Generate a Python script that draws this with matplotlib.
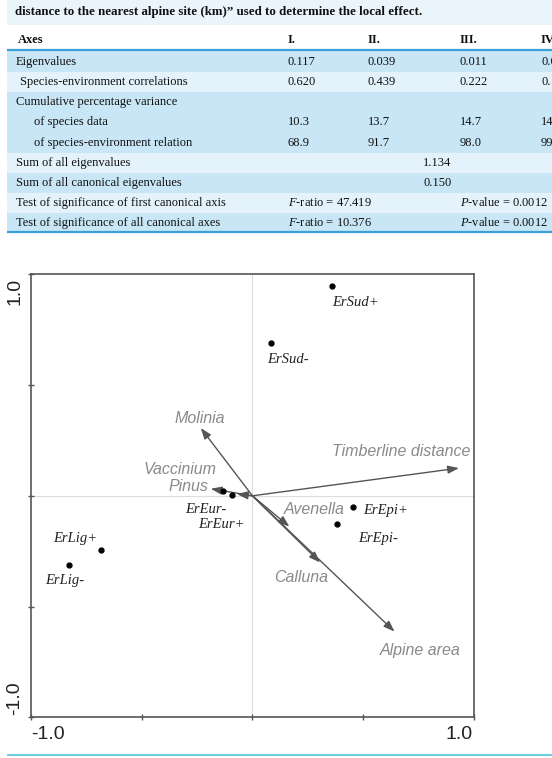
import matplotlib
matplotlib.use("Agg")
import matplotlib.pyplot as plt
from matplotlib.patches import Rectangle

# --- datos de la tabla ---
col_headers = ["I.", "II.", "III.", "IV."]
row_labels = ["Eigenvalues", "Species-environment correlations",
              "Cumulative percentage variance", "of species data",
              "of species-environment relation", "Sum of all eigenvalues",
              "Sum of all canonical eigenvalues",
              "Test of significance of first canonical axis",
              "Test of significance of all canonical axes"]
eigenvalues = ["0.117", "0.039", "0.011", "0.0"]
correlations = ["0.620", "0.439", "0.222", "0."]
cum_species = ["10.3", "13.7", "14.7", "14"]
cum_relation = ["68.9", "91.7", "98.0", "99"]
sum_all = "1.134"
sum_canonical = "0.150"
f_ratios = ["47.419", "10.376"]
p_values = ["0.0012", "0.0012"]
caption = "distance to the nearest alpine site (km)\u201d used to determine the local effect."

# --- datos del diagrama (CCA biplot) ---
sites = ["ErSud+", "ErSud-", "ErEur-", "ErEur+", "ErEpi+", "ErEpi-", "ErLig+", "ErLig-"]
site_x = [0.360, 0.082, -0.134, -0.093, 0.453, 0.381, -0.686, -0.828]
site_y = [0.949, 0.691, 0.021, 0.003, -0.050, -0.126, -0.244, -0.311]

env_vars = ["Molinia", "Timberline distance", "Vaccinium", "Pinus",
            "Avenella", "Calluna", "Alpine area"]
env_x = [-0.233, 0.933, -0.070, -0.188, 0.167, 0.306, 0.642]
env_y = [0.306, 0.125, 0.008, 0.032, -0.139, -0.301, -0.613]

# desplazamientos de etiquetas (pixeles) y alineacion
site_off = [(0, -16.6, "left"), (-3.5, -16.3, "left"), (3.3, -18, "right"),
            (13.3, -29.7, "right"), (10, -3.7, "left"), (21.8, -15, "left"),
            (-25.4, 11, "center"), (-4.6, -16, "center")]
env_off = [(-0.7, 10, "center"), (11, 16.6, "right"), (-20, 25, "right"),
           (-2.4, 2.3, "right"), (-6, 17.4, "left"), (-19.3, -15, "center"),
           (25.3, -19, "center")]

plt.rcParams["mathtext.fontset"] = "custom"
plt.rcParams["mathtext.rm"] = "Liberation Serif"
plt.rcParams["mathtext.it"] = "Liberation Serif:italic"

W, H = 552, 758
fig = plt.figure(figsize=(W / 100, H / 100), dpi=100)

# capa de fondo en pixeles para la tabla
bg = fig.add_axes([0, 0, 1, 1])
bg.set_xlim(0, W)
bg.set_ylim(H, 0)
bg.axis("off")

dark = "#c8e6f6"
light = "#e3f2fb"
line_blue = "#3a9fd8"

bg.add_patch(Rectangle((7, 0), W - 7, 25, color="#e9f5fb", lw=0))
bg.text(15, 11.5, caption, family="Liberation Serif", weight="bold",
        fontsize=9.3, va="center", ha="left", color="#111")

# filas coloreadas
bands = [(51, 72, dark), (72, 92, light), (92, 153, dark), (153, 173, light),
         (173, 193, dark), (193, 213, light), (213, 232, dark)]
for y0, y1, c in bands:
    bg.add_patch(Rectangle((7, y0), W - 7, y1 - y0, color=c, lw=0))
bg.plot([7, W], [50, 50], color=line_blue, lw=1.6, solid_capstyle="butt")
bg.plot([7, W], [232, 232], color=line_blue, lw=1.6, solid_capstyle="butt")
bg.plot([7, W], [755, 755], color="#6fcde4", lw=1.5, solid_capstyle="butt")

col_x = [288, 368, 460, 541]
mid_x = 423
tkw = dict(family="Liberation Serif", fontsize=9, va="center", ha="left", color="#111")

bg.text(18, 40, "Axes", weight="bold", **tkw)
for x, h in zip(col_x, col_headers):
    bg.text(x, 40, h, weight="bold", **tkw)

row_y = [61.7, 81.7, 101.7, 122.3, 142.7, 163.3, 183.3, 202.7, 222.7]
row_x = [16, 20, 16, 34, 34, 16, 16, 16, 16]
for x, y, lab in zip(row_x, row_y, row_labels):
    bg.text(x, y, lab, **tkw)

for vals, y in [(eigenvalues, row_y[0]), (correlations, row_y[1]),
                (cum_species, row_y[3]), (cum_relation, row_y[4])]:
    for x, v in zip(col_x, vals):
        bg.text(x, y, v, **tkw)
bg.text(mid_x, row_y[5], sum_all, **tkw)
bg.text(mid_x, row_y[6], sum_canonical, **tkw)
for i in range(2):
    bg.text(col_x[0], row_y[7 + i], r"$\mathit{F}$-ratio = " + f_ratios[i], **tkw)
    bg.text(col_x[2], row_y[7 + i], r"$\mathit{P}$-value = " + p_values[i], **tkw)

# --- diagrama ---
ax = fig.add_axes([31 / W, (H - 717.3) / H, 442.8 / W, 443 / H])
ax.set_xlim(-1, 1)
ax.set_ylim(-1, 1)
ax.set_facecolor("none")
for s in ax.spines.values():
    s.set_color("#555555")
    s.set_linewidth(1.2)
ax.set_xticks([-1, -0.5, 0, 0.5, 1])
ax.set_yticks([-1, -0.5, 0, 0.5, 1])
ax.tick_params(direction="inout", length=5, width=1, color="#555555",
               labelbottom=False, labelleft=False)
ax.axhline(0, color="#dddddd", lw=0.8, zorder=0)
ax.axvline(0, color="#dddddd", lw=0.8, zorder=0)

for name, x, y, (dx, dy, ha) in zip(env_vars, env_x, env_y, env_off):
    ax.annotate("", xy=(x, y), xytext=(0, 0),
                arrowprops=dict(arrowstyle="-|>,head_length=0.55,head_width=0.2",
                                color="#555555", lw=1, mutation_scale=12,
                                shrinkA=0, shrinkB=0))
    ax.annotate(name, xy=(x, y), xytext=(dx, dy), textcoords="offset pixels",
                ha=ha, va="center", fontsize=11.5, style="italic",
                family="Liberation Sans", color="#8a8a8a")

ax.plot(site_x, site_y, "o", color="black", ms=3.5, zorder=5)
for name, x, y, (dx, dy, ha) in zip(sites, site_x, site_y, site_off):
    ax.annotate(name, xy=(x, y), xytext=(dx, dy), textcoords="offset pixels",
                ha=ha, va="center", fontsize=10.5, style="italic",
                family="Liberation Serif", color="#222222")

lkw = dict(fontsize=14, family="Liberation Sans", color="#222222")
ax.annotate("-1.0", xy=(0, 0), xycoords="axes fraction", xytext=(0, -17),
            textcoords="offset pixels", ha="left", va="center", **lkw)
ax.annotate("1.0", xy=(1, 0), xycoords="axes fraction", xytext=(-1, -17),
            textcoords="offset pixels", ha="right", va="center", **lkw)
ax.annotate("1.0", xy=(0, 1), xycoords="axes fraction", xytext=(-16, -4),
            textcoords="offset pixels", ha="center", va="top", rotation=90, **lkw)
ax.annotate("-1.0", xy=(0, 0), xycoords="axes fraction", xytext=(-16, 2),
            textcoords="offset pixels", ha="center", va="bottom", rotation=90, **lkw)

fig.savefig("out.png", dpi=100)
